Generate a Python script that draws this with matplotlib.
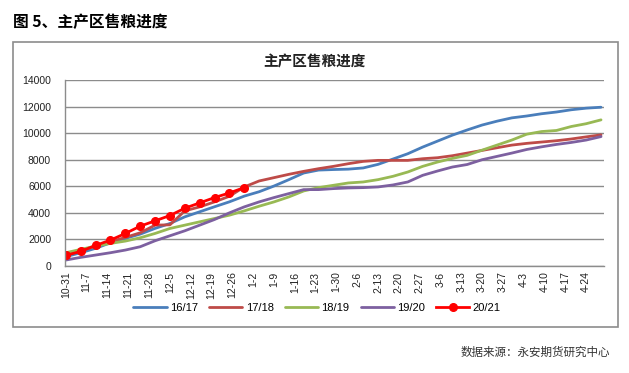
import matplotlib
matplotlib.use("Agg")
import matplotlib.pyplot as plt
from matplotlib.patches import Rectangle
import numpy as np

plt.rcParams['font.family'] = ['Liberation Sans', 'Noto Sans CJK SC', 'DejaVu Sans']

# x positions: days since 10-31, data sampled every 5 days
days = list(range(0, 181, 5))
tick_days = list(range(0, 176, 7))
tick_labels = ["10-31", "11-7", "11-14", "11-21", "11-28", "12-5", "12-12", "12-19", "12-26",
               "1-2", "1-9", "1-16", "1-23", "1-30", "2-6", "2-13", "2-20", "2-27",
               "3-6", "3-13", "3-20", "3-27", "4-3", "4-10", "4-17", "4-24"]

s1617 = [700, 1000, 1330, 1750, 2080, 2400, 2830, 3200, 3700, 4080, 4460, 4830, 5260, 5590,
         6020, 6500, 7000, 7220, 7260, 7290, 7380, 7650, 8050, 8450, 8950, 9400, 9850,
         10240, 10610, 10900, 11150, 11290, 11460, 11590, 11760, 11880, 11950]
s1718 = [825, 1150, 1500, 1825, 2150, 2500, 3075, 3100, 4150, 4450, 4825, 5250, 5950, 6400,
         6650, 6900, 7125, 7325, 7500, 7700, 7875, 7950, 7950, 7950, 8075, 8150, 8300,
         8500, 8700, 8900, 9100, 9230, 9330, 9430, 9560, 9720, 9870]
s1819 = [1000, 1250, 1500, 1700, 1875, 2125, 2450, 2825, 3075, 3325, 3575, 3825, 4150, 4500,
         4825, 5200, 5650, 5900, 6075, 6250, 6325, 6500, 6750, 7075, 7500, 7825, 8100,
         8330, 8720, 9100, 9480, 9920, 10120, 10200, 10500, 10710, 11000]
s1920 = [450, 650, 825, 1000, 1200, 1450, 1900, 2275, 2650, 3075, 3500, 4000, 4450, 4825,
         5150, 5450, 5750, 5750, 5825, 5875, 5900, 5950, 6100, 6325, 6825, 7150, 7450,
         7640, 8000, 8250, 8500, 8770, 8970, 9150, 9300, 9480, 9740]
s2021 = [800, 1100, 1550, 1950, 2450, 3000, 3400, 3800, 4350, 4750, 5150, 5500, 5900]

series = [
    ("16/17", s1617, "#4A7EBB"),
    ("17/18", s1718, "#BE4B48"),
    ("18/19", s1819, "#98B954"),
    ("19/20", s1920, "#7D60A0"),
]

W, H = 629, 373
fig = plt.figure(figsize=(W / 100, H / 100), dpi=100)

def fx(px):
    return px / W

def fy(py):
    return 1 - py / H

# outer frame
fig.patches.append(Rectangle((fx(13), fy(327)), fx(618) - fx(13), fy(42) - fy(327),
                             transform=fig.transFigure, fill=False, edgecolor="#8C8C8C", lw=1.2))

ax = fig.add_axes([fx(65), fy(266), fx(604) - fx(65), fy(80) - fy(266)])

for name, vals, col in series:
    ax.plot(days[:len(vals)], vals, color=col, lw=2.0, label=name, solid_capstyle='round')
ax.plot(days[:len(s2021)], s2021, color="#FF0000", lw=2.0, marker="o", markersize=5.5, label="20/21")

ax.set_xlim(-0.3, 181)
ax.set_ylim(0, 14000)
ax.set_yticks(range(0, 14001, 2000))
ax.set_xticks(tick_days)
ax.set_xticklabels(tick_labels, rotation=90)
ax.tick_params(axis='both', length=0, labelsize=7.5, colors="#222222")
ax.tick_params(axis='x', pad=4)
ax.tick_params(axis='y', pad=10)
ax.grid(axis='y', color="#8C8C8C", lw=1.0)
ax.set_axisbelow(True)
for sp in ["top", "right"]:
    ax.spines[sp].set_visible(False)
for sp in ["left", "bottom"]:
    ax.spines[sp].set_color("#8C8C8C")
    ax.spines[sp].set_linewidth(1.0)

leg = fig.legend(loc="center", bbox_to_anchor=(fx(317), fy(308)), ncol=5, frameon=False,
                 fontsize=8, handlelength=3.0, columnspacing=1.0, handletextpad=0.3)

fig.text(0.5, fy(62), "主产区售粮进度", ha="center", va="center", fontsize=10.5,
         family=['Noto Sans CJK SC'], fontweight='bold', color="#222222")
fig.text(fx(13), fy(22), "图 5、主产区售粮进度", ha="left", va="center", fontsize=11.3,
         family=['Noto Sans CJK SC'], fontweight='bold', color="#000000")
fig.text(fx(610), fy(352), "数据来源：永安期货研究中心", ha="right", va="center", fontsize=8.3,
         family=['Noto Sans CJK SC'], color="#333333")

fig.savefig("out.png", dpi=100)
